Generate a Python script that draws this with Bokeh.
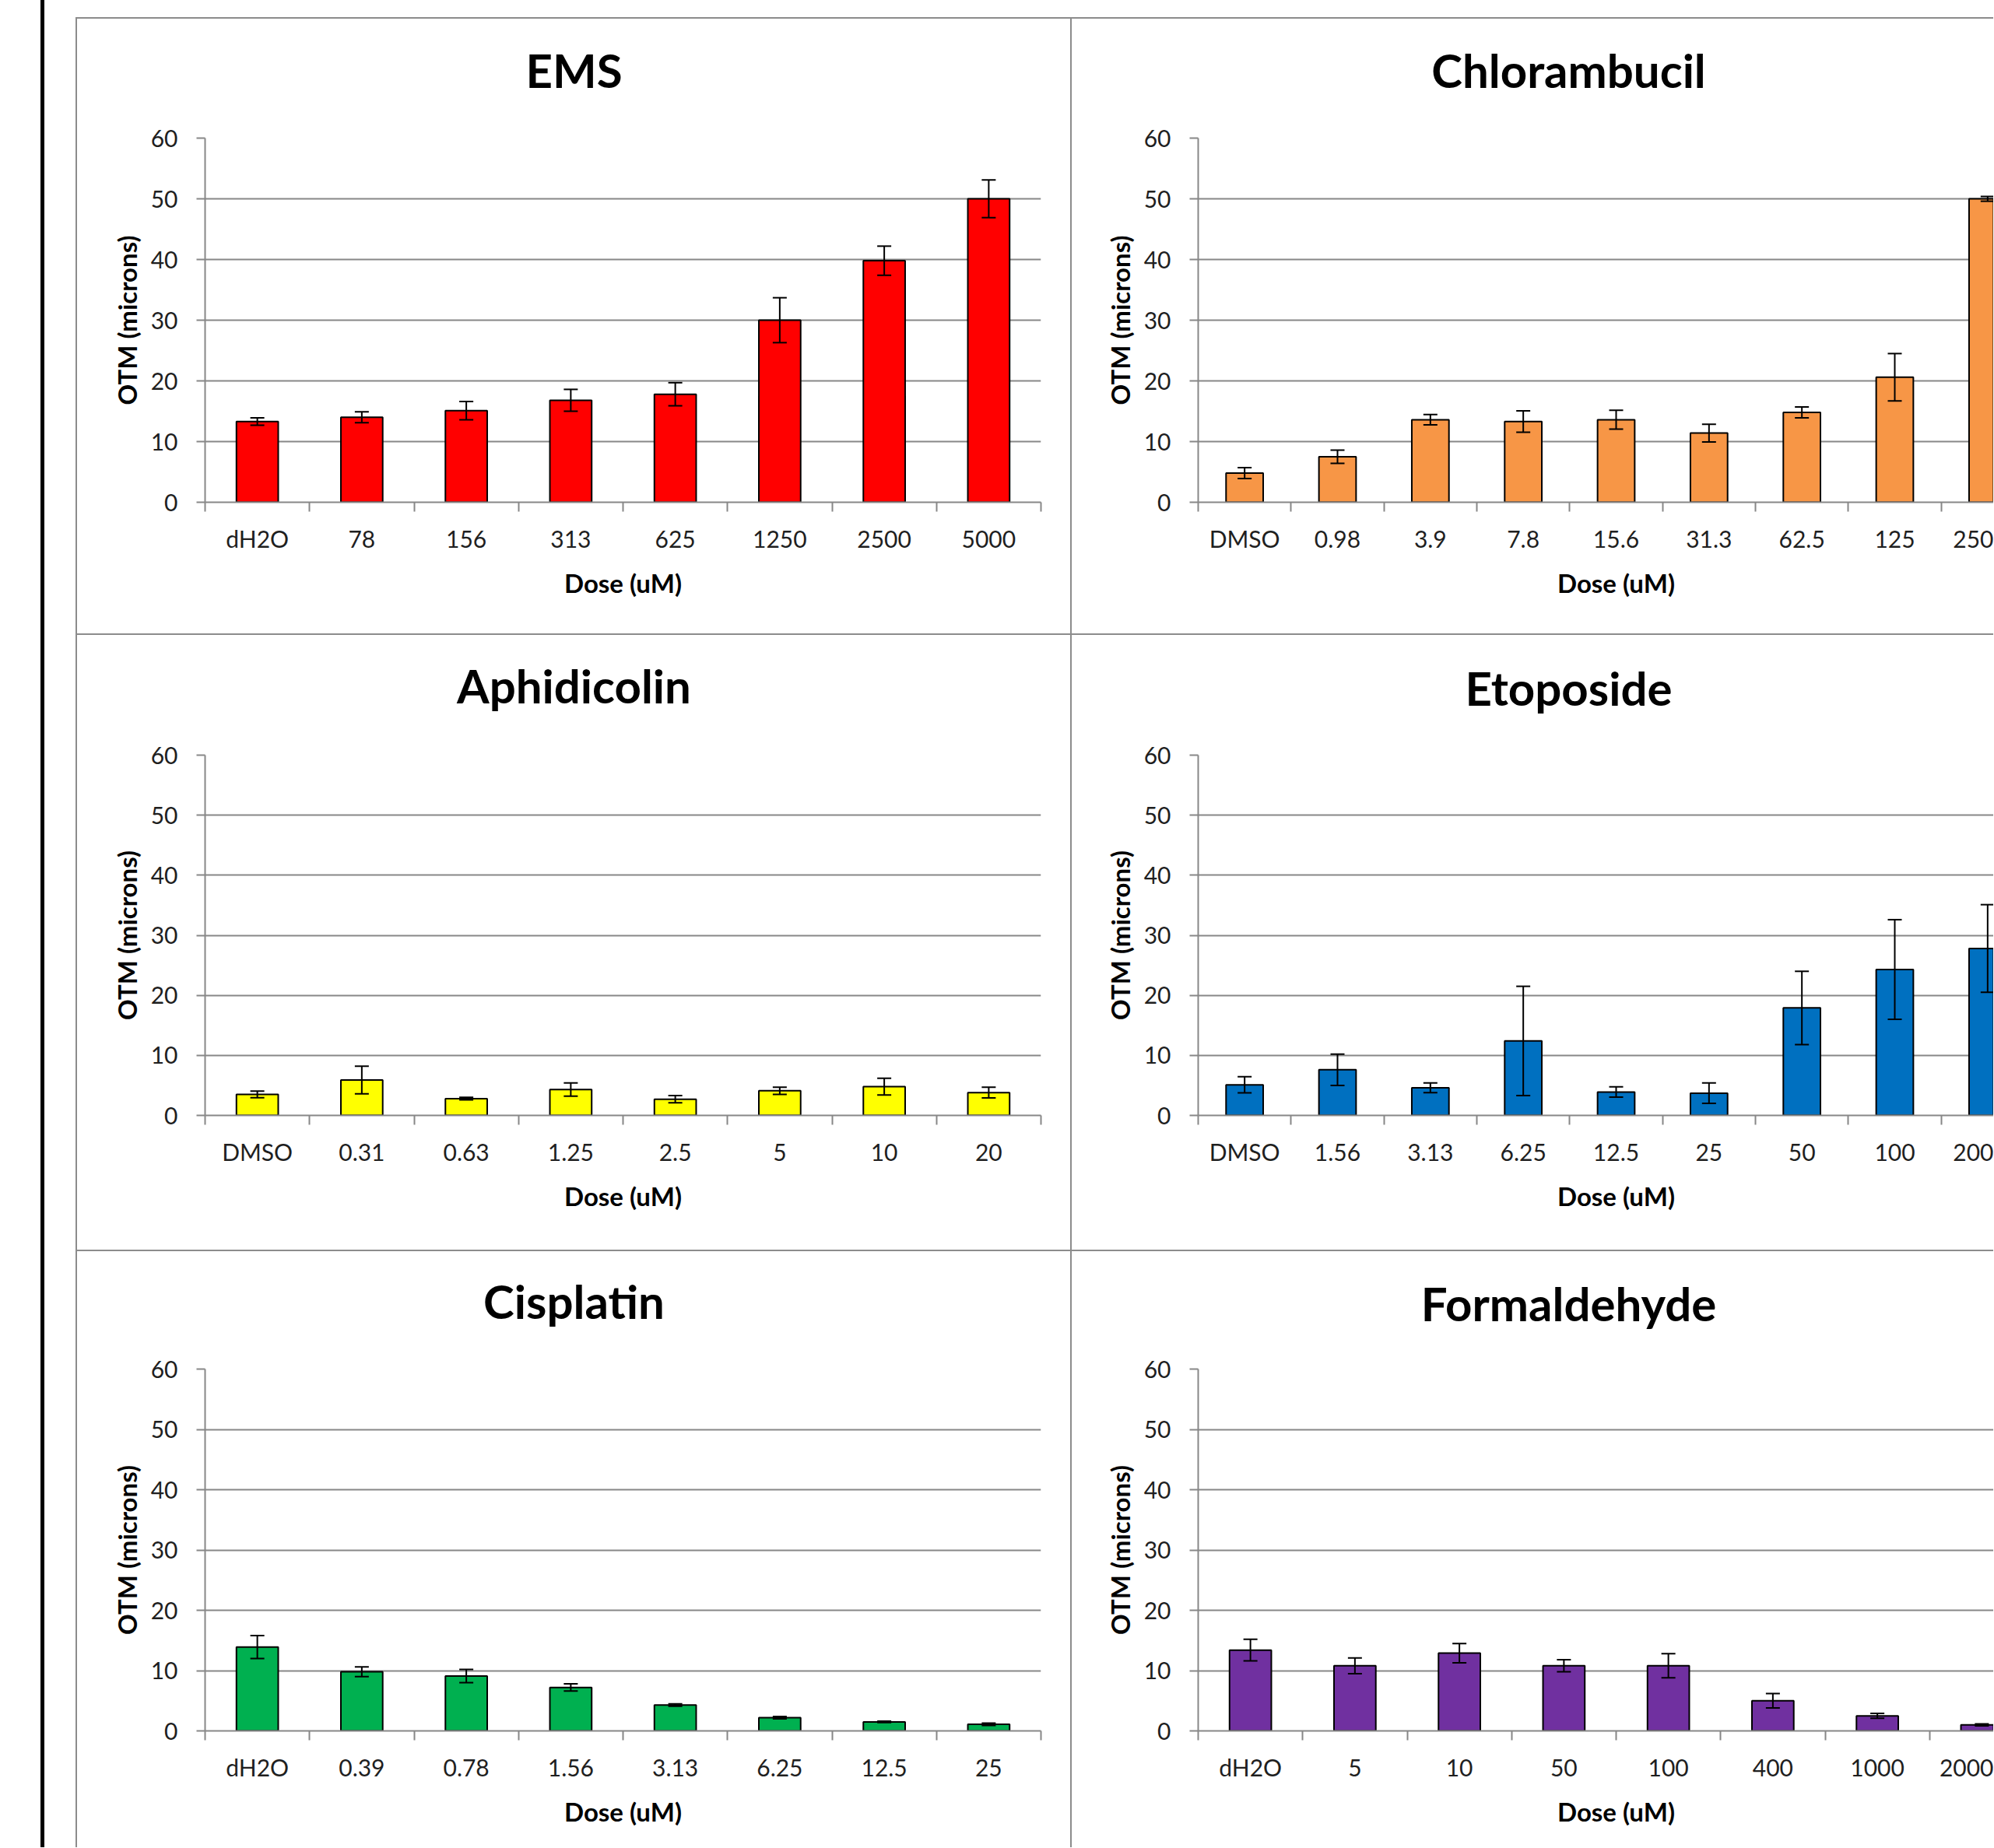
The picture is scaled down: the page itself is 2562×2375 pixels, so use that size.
from bokeh.plotting import figure
from bokeh.models import (Range1d, FixedTicker, CustomJSTickFormatter, ColumnDataSource,
                          Whisker, TeeHead, LinearAxis, Div, Spacer)
from bokeh.layouts import row, column
from bokeh.embed import file_html
from bokeh.resources import INLINE

# ---------------- data ----------------
y_ticks = [0, 10, 20, 30, 40, 50, 60]

ems_doses = ["dH2O", "78", "156", "313", "625", "1250", "2500", "5000"]
ems_otm = [13.3, 14.0, 15.1, 16.8, 17.8, 30.0, 39.8, 50.0]
ems_err = [0.6, 0.9, 1.5, 1.8, 1.9, 3.7, 2.4, 3.1]

chl_doses = ["DMSO", "0.98", "3.9", "7.8", "15.6", "31.3", "62.5", "125", "250"]
chl_otm = [4.8, 7.5, 13.6, 13.3, 13.6, 11.4, 14.8, 20.6, 50.0]
chl_err = [0.9, 1.1, 0.85, 1.75, 1.55, 1.45, 0.9, 3.9, 0.4]

aph_doses = ["DMSO", "0.31", "0.63", "1.25", "2.5", "5", "10", "20"]
aph_otm = [3.5, 5.9, 2.8, 4.3, 2.7, 4.1, 4.8, 3.8]
aph_err = [0.55, 2.3, 0.2, 1.1, 0.6, 0.6, 1.4, 0.9]

eto_doses = ["DMSO", "1.56", "3.13", "6.25", "12.5", "25", "50", "100", "200"]
eto_otm = [5.1, 7.6, 4.6, 12.4, 3.9, 3.7, 17.9, 24.3, 27.8]
eto_err = [1.35, 2.6, 0.8, 9.1, 0.85, 1.7, 6.1, 8.3, 7.3]

cis_doses = ["dH2O", "0.39", "0.78", "1.56", "3.13", "6.25", "12.5", "25"]
cis_otm = [13.9, 9.8, 9.1, 7.2, 4.3, 2.2, 1.5, 1.1]
cis_err = [1.9, 0.8, 1.1, 0.6, 0.2, 0.2, 0.1, 0.2]

frm_doses = ["dH2O", "5", "10", "50", "100", "400", "1000", "2000"]
frm_otm = [13.4, 10.8, 12.9, 10.8, 10.8, 5.0, 2.5, 1.0]
frm_err = [1.8, 1.3, 1.6, 1.0, 2.0, 1.2, 0.4, 0.15]

# ---------------- style / layout ----------------
GRAY = "#878787"
BORDER = "#8c8c8c"
FONT = "Lato"
TICK_COLOR = "#1f1f1f"
FULL_W = 1074          # plot-area width of an uncropped panel
FRAME_H = 468
PANEL_CENTER = 638     # title centre, relative to figure left
LEFT_W, RIGHT_W = 1276, 1184
ROW_H = [790, 790, 766]


def text_axis(p, text, x, side, size, standoff):
    """An axis used only to carry one centred text (chart / axis title)."""
    ax = LinearAxis(ticker=FixedTicker(ticks=[x]),
                    formatter=CustomJSTickFormatter(args=dict(t=text), code="return t;"))
    ax.axis_line_color = None
    ax.major_tick_line_color = None
    ax.minor_tick_line_color = None
    ax.major_label_text_font = FONT
    ax.major_label_text_font_size = size
    ax.major_label_text_font_style = "bold"
    ax.major_label_text_color = "black"
    ax.major_label_standoff = standoff
    p.add_layout(ax, side)


def panel(title, doses, otm, err, color, width, height, top, title_y, cut):
    n = len(doses)
    left = 162 if cut else 164
    right = 0 if cut else width - 164 - FULL_W
    frame_w = width - left - right
    x_end = n * frame_w / FULL_W
    bottom = height - top - FRAME_H
    px_per_x = FULL_W / n

    p = figure(width=width, height=height, x_range=Range1d(0, x_end), y_range=Range1d(0, 60),
               output_backend="svg", toolbar_location=None,
               min_border_left=left, min_border_right=right,
               min_border_top=top, min_border_bottom=bottom,
               background_fill_color="white", border_fill_color="white")
    p.outline_line_color = None

    xs = [i + 0.5 for i in range(n)]
    src = ColumnDataSource(dict(x=xs, top=otm,
                                upper=[v + e for v, e in zip(otm, err)],
                                lower=[v - e for v, e in zip(otm, err)]))
    p.vbar(x="x", top="top", width=0.4, source=src, fill_color=color,
           line_color="black", line_width=2)
    wk = Whisker(source=src, base="x", upper="upper", lower="lower",
                 line_color="black", line_width=2, level="annotation",
                 upper_head=TeeHead(size=18, line_color="black", line_width=2),
                 lower_head=TeeHead(size=18, line_color="black", line_width=2))
    p.add_layout(wk)

    # x axis: labels at category centres, tick marks at category boundaries
    xa = p.xaxis[0]
    xa.ticker = FixedTicker(ticks=xs, minor_ticks=list(range(n + 1)))
    xa.formatter = CustomJSTickFormatter(args=dict(labels=doses), code="""
        const i = Math.floor(tick);
        return (i >= 0 && i < labels.length) ? labels[i] : '';
    """)
    xa.major_tick_in = 0
    xa.major_tick_out = 0
    xa.minor_tick_in = 0
    xa.minor_tick_out = 12
    xa.minor_tick_line_color = GRAY
    xa.minor_tick_line_width = 2
    xa.axis_line_color = GRAY
    xa.axis_line_width = 2
    xa.major_label_text_font = FONT
    xa.major_label_text_font_size = "30px"
    xa.major_label_text_color = TICK_COLOR
    xa.major_label_standoff = 16

    ya = p.yaxis[0]
    ya.ticker = FixedTicker(ticks=y_ticks)
    ya.major_tick_in = 0
    ya.major_tick_out = 11
    ya.major_tick_line_color = GRAY
    ya.major_tick_line_width = 2
    ya.minor_tick_line_color = None
    ya.axis_line_color = GRAY
    ya.axis_line_width = 2
    ya.major_label_text_font = FONT
    ya.major_label_text_font_size = "30px"
    ya.major_label_text_color = TICK_COLOR
    ya.major_label_standoff = 24
    ya.axis_label = "OTM (microns)"
    ya.axis_label_text_font = FONT
    ya.axis_label_text_font_size = "33px"
    ya.axis_label_text_font_style = "bold"
    ya.axis_label_text_color = "black"
    ya.axis_label_standoff = 8

    p.xgrid.visible = False
    p.ygrid.ticker = ya.ticker
    p.ygrid.grid_line_color = GRAY
    p.ygrid.grid_line_width = 2

    # chart title, centred on the whole panel
    text_axis(p, title, (PANEL_CENTER - left) / px_per_x, "above", "60px",
              round(top - title_y - 39))
    # x-axis title, centred on the whole (uncropped) plot area
    text_axis(p, "Dose (uM)", n / 2, "below", "33px", 10)
    return p


f_ems = panel("EMS", ems_doses, ems_otm, ems_err, "#FF0000", LEFT_W, ROW_H[0], 153, 68.5, False)
f_chl = panel("Chlorambucil", chl_doses, chl_otm, chl_err, "#F79646", RIGHT_W, ROW_H[0], 153, 68.5, True)
f_aph = panel("Aphidicolin", aph_doses, aph_otm, aph_err, "#FFFF00", LEFT_W, ROW_H[1], 149, 62, False)
f_eto = panel("Etoposide", eto_doses, eto_otm, eto_err, "#0070C0", RIGHT_W, ROW_H[1], 154, 70, True)
f_cis = panel("Cisplatin", cis_doses, cis_otm, cis_err, "#00B050", LEFT_W, ROW_H[2], 148, 63, False)
f_frm = panel("Formaldehyde", frm_doses, frm_otm, frm_err, "#7030A0", RIGHT_W, ROW_H[2], 151, 69, True)


def vline(h):
    return Div(text="", width=2, height=h, margin=0, styles={"background-color": BORDER})


def hline(w):
    return Div(text="", width=w, height=2, margin=0, styles={"background-color": BORDER})


grid_w = 2 + LEFT_W + 2 + RIGHT_W
grid = column(
    Spacer(width=grid_w, height=22, margin=0),
    hline(grid_w),
    row(vline(ROW_H[0]), f_ems, vline(ROW_H[0]), f_chl),
    hline(grid_w),
    row(vline(ROW_H[1]), f_aph, vline(ROW_H[1]), f_eto),
    hline(grid_w),
    row(vline(ROW_H[2]), f_cis, vline(ROW_H[2]), f_frm),
)
total_h = 22 + 2 + ROW_H[0] + 2 + ROW_H[1] + 2 + ROW_H[2]
page = row(
    Spacer(width=52, height=10, margin=0),
    Div(text="", width=5, height=total_h, margin=0, styles={"background-color": "black"}),
    Spacer(width=40, height=10, margin=0),
    grid,
)

open("out.html", "w").write(file_html(page, INLINE))
